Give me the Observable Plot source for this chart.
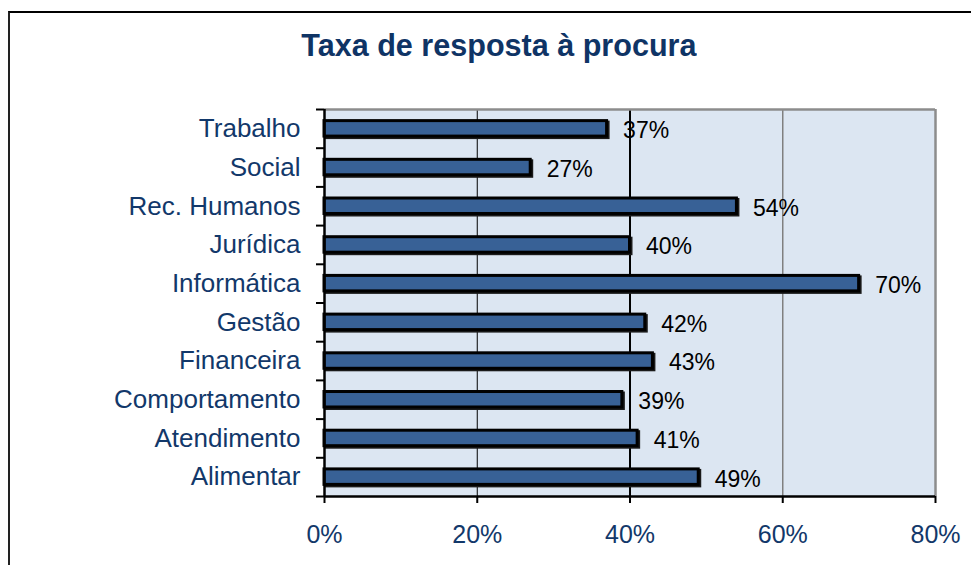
<!DOCTYPE html>
<html>
<head>
<meta charset="utf-8">
<script src="https://cdn.jsdelivr.net/npm/d3@7"></script>
<script src="https://cdn.jsdelivr.net/npm/@observablehq/plot@0.6"></script>
<style>
  html, body { margin: 0; padding: 0; background: #fff; overflow: hidden; width: 971px; height: 565px; }
  body { position: relative; font-family: "Liberation Sans", Arial, sans-serif; }
  #border { position: absolute; left: 8px; top: 11px; width: 2000px; height: 2000px;
            border-top: 2px solid #000; border-left: 2px solid #222; box-sizing: border-box; pointer-events: none; }
  #title { height: 96px; box-sizing: border-box; padding-top: 27px; text-align: center;
           padding-left: 26px; line-height: 1.15;
           font-family: "Liberation Sans", Arial, sans-serif; font-weight: bold; font-size: 32px; color: #0f3465; }
  #title span { display: inline-block; transform: scaleX(0.955); transform-origin: center; }
  #chart { display: block; }
</style>
</head>
<body>
<div id="border"></div>
<div id="title"><span>Taxa de resposta à procura</span></div>
<div id="chart"></div>
<script>
const categories = ["Trabalho", "Social", "Rec. Humanos", "Jurídica", "Informática", "Gestão", "Financeira", "Comportamento", "Atendimento", "Alimentar"];
const values = [37, 27, 54, 40, 70, 42, 43, 39, 41, 49];
const xTicks = [0, 20, 40, 60, 80];

const data = categories.map((c, i) => ({category: c, value: values[i], i}));
const boundaries = d3.range(categories.length + 1);
const centers = categories.map((c, i) => i + 0.5);

const labelColor = "#12386a";
const font = "Liberation Sans, Arial, sans-serif";

const chart = Plot.plot({
  width: 971,
  height: 469,
  marginTop: 13,
  marginBottom: 69,
  marginLeft: 324,
  marginRight: 36,
  style: {fontFamily: font, background: "transparent", overflow: "visible"},
  x: {domain: [0, 80]},
  y: {domain: [0, categories.length], reverse: true},
  marks: [
    Plot.frame({fill: "#dce6f2", stroke: null}),
    Plot.ruleX([20], {stroke: "#000", strokeWidth: 1}),
    Plot.ruleX([40], {stroke: "#000", strokeWidth: 2}),
    Plot.ruleX([60], {stroke: "#808080", strokeWidth: 1.5}),
    Plot.ruleY([0], {stroke: "#8c8c8c", strokeWidth: 2.5}),
    Plot.ruleX([80], {stroke: "#8c8c8c", strokeWidth: 2.5}),
    // bar shadows
    Plot.rectX(data, {x1: 0, x2: "value", y1: d => d.i + 0.3, y2: d => d.i + 0.7, fill: "#1a1a1a", stroke: "#1a1a1a", strokeWidth: 3, dx: 1.5, dy: 1.5}),
    Plot.rectX(data, {x1: 0, x2: "value", y1: d => d.i + 0.3, y2: d => d.i + 0.7, fill: "#386196", stroke: "#000", strokeWidth: 3}),
    Plot.text(data, {x: "value", y: d => d.i + 0.5, text: d => d.value + "%", textAnchor: "start", dx: 16, dy: 2, fontSize: 23, fill: "#000"}),
    Plot.ruleX([0], {stroke: "#000", strokeWidth: 2.5}),
    Plot.ruleY([categories.length], {stroke: "#000", strokeWidth: 2.5}),
    Plot.axisY({ticks: boundaries, tickFormat: () => "", tickSize: 8, stroke: "#000", strokeWidth: 2}),
    Plot.axisY({ticks: centers, tickFormat: d => categories[Math.floor(d)], tickSize: 0, tickPadding: 24, fontSize: 26, fill: labelColor, label: null}),
    Plot.axisX({ticks: xTicks, tickFormat: d => d + "%", tickSize: 7, tickPadding: 22, fontSize: 25, fill: labelColor, stroke: "#000", strokeWidth: 2, label: null})
  ]
});
document.getElementById("chart").appendChild(chart);
</script>
</body>
</html>
